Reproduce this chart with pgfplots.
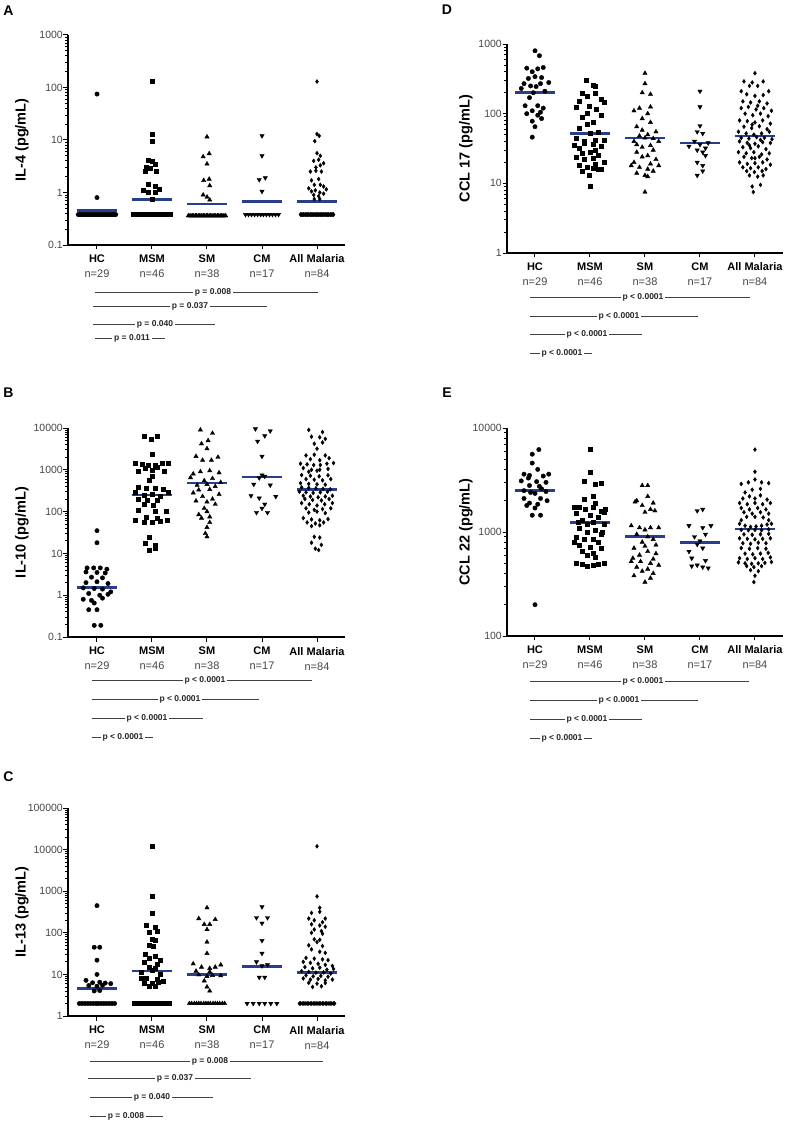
\documentclass[border=0pt]{standalone}
\usepackage{fontspec}
\setmainfont{Liberation Sans}
\usepackage{pgfplots}
\pgfplotsset{compat=1.18}
\definecolor{medblue}{RGB}{38,62,140}
\definecolor{ticktxt}{RGB}{70,70,70}

\pgfplotsset{
  panel/.style={
    scale only axis, clip=false,
    axis x line*=bottom, axis y line*=left,
    axis line style={-, line width=1.4pt},
    xtick={0,1,2,3,4},
    xticklabels={{\bfseries HC\\\color{ticktxt}n=29},{\bfseries MSM\\\color{ticktxt}n=46},{\bfseries SM\\\color{ticktxt}n=38},{\bfseries CM\\\color{ticktxt}n=17},{\bfseries All Malaria\\\color{ticktxt}n=84}},
    xticklabel style={align=center, font=\fontsize{11}{15}\selectfont, yshift=-2pt},
    tick align=outside,
    major tick length=4.5pt, minor tick length=3pt,
    tick style={black, line width=1pt},
    minor tick style={black, line width=0.8pt},
    yminorticks=true,
    yticklabel style={font=\fontsize{10.5}{12}\selectfont\color{ticktxt}, inner sep=0.5pt},
    ylabel style={font=\bfseries\fontsize{14.5}{14.5}\selectfont, anchor=center},
  },
  hc/.style={only marks, mark=*, mark size=2.2pt, black},
  msm/.style={only marks, mark=square*, mark size=2.0pt, black},
  sm/.style={only marks, mark=triangle*, mark size=2.5pt, black},
  cm/.style={only marks, mark=triangle*, mark size=2.5pt, black, mark options={rotate=180}},
  allm/.style={only marks, mark=diamond*, mark size=2.0pt, black},
  med/.style={no marks, color=medblue, line width=2.6pt},
}
\tikzset{
  pline/.style={line width=0.6pt, black!75},
  pval/.style={font=\bfseries\fontsize{8.5}{8.5}\selectfont, fill=white, inner xsep=2pt, inner ysep=0.5pt, text=black!85},
  lett/.style={font=\bfseries\fontsize{14}{14}\selectfont, anchor=center},
}

\begin{document}
\begin{tikzpicture}[x=1pt,y=1pt]
\useasboundingbox (0,0) rectangle (787,-1123);

% ---------------- A: IL-4
\begin{axis}[ymode=log, log ticks with fixed point, /pgf/number format/1000 sep={}, /pgf/number format/assume math mode=true,
  panel, at={(68pt,-245pt)}, anchor=south west, width=277pt, height=210pt,
  xmin=-0.527, xmax=4.509, ymin=0.1, ymax=1000, ylabel={IL-4 (pg/mL)},
  ytick={0.1,1,10,100,1000},
  minor ytick={0.2,0.3,0.4,0.5,0.6,0.7,0.8,0.9,2,3,4,5,6,7,8,9,20,30,40,50,60,70,80,90,200,300,400,500,600,700,800,900},
  ylabel style={at={(axis description cs:-0.166,0.5)}}]
\addplot[hc] coordinates {(0,75) (0,0.8)
 (-0.34,0.38) (-0.31,0.38) (-0.29,0.38) (-0.26,0.38) (-0.24,0.38) (-0.21,0.38) (-0.18,0.38) (-0.16,0.38) (-0.13,0.38) (-0.10,0.38) (-0.08,0.38) (-0.05,0.38) (-0.03,0.38) (0,0.38) (0.03,0.38) (0.05,0.38) (0.08,0.38) (0.10,0.38) (0.13,0.38) (0.16,0.38) (0.18,0.38) (0.21,0.38) (0.24,0.38) (0.26,0.38) (0.29,0.38) (0.31,0.38) (0.34,0.38)};
\addplot[msm] coordinates {(1,130) (1,13) (1,9.5) (0.93,4.2) (1.0,4.0) (0.89,3.0) (0.97,2.9) (1.06,3.4) (1.08,2.5) (0.88,2.5) (0.93,1.45) (1.05,1.3) (1.14,1.15) (0.84,1.1) (0.93,1.0) (1.05,1.0) (1.0,0.75)
 (0.66,0.38) (0.68,0.38) (0.71,0.38) (0.73,0.38) (0.76,0.38) (0.78,0.38) (0.81,0.38) (0.83,0.38) (0.85,0.38) (0.88,0.38) (0.90,0.38) (0.93,0.38) (0.95,0.38) (0.98,0.38) (1.00,0.38) (1.02,0.38) (1.05,0.38) (1.07,0.38) (1.10,0.38) (1.12,0.38) (1.15,0.38) (1.17,0.38) (1.19,0.38) (1.22,0.38) (1.24,0.38) (1.27,0.38) (1.29,0.38) (1.32,0.38) (1.34,0.38)};
\addplot[sm] coordinates {(2,11.5) (1.93,4.8) (2.04,5.5) (2,3.5) (1.94,1.7) (2.04,1.8) (2.05,1.35) (1.93,0.9) (2,0.82) (2.05,0.72)
 (1.66,0.36) (1.69,0.36) (1.71,0.36) (1.74,0.36) (1.76,0.36) (1.79,0.36) (1.81,0.36) (1.84,0.36) (1.86,0.36) (1.89,0.36) (1.91,0.36) (1.94,0.36) (1.96,0.36) (1.99,0.36) (2.01,0.36) (2.04,0.36) (2.06,0.36) (2.09,0.36) (2.11,0.36) (2.14,0.36) (2.16,0.36) (2.19,0.36) (2.21,0.36) (2.24,0.36) (2.26,0.36) (2.29,0.36) (2.31,0.36) (2.34,0.36)};
\addplot[cm] coordinates {(3,12) (3,5) (2.95,1.75) (3.06,1.9) (3,1.05)
 (2.70,0.38) (2.755,0.38) (2.81,0.38) (2.865,0.38) (2.92,0.38) (2.975,0.38) (3.025,0.38) (3.08,0.38) (3.135,0.38) (3.19,0.38) (3.245,0.38) (3.30,0.38)};
\addplot[allm] coordinates {(4,130) (4,13) (4.04,12) (3.96,9.5) (4,5.6) (4.06,5.0) (3.94,4.0) (4.03,4.2) (4.06,3.3) (4.12,3.6) (3.98,3.0) (3.88,2.5) (3.98,2.6) (4.08,2.5) (4.03,1.8) (3.9,1.7) (3.95,1.4) (4.06,1.4) (4.12,1.3) (3.85,1.2) (4.17,1.15) (3.97,1.1) (4.05,1.0) (3.9,1.05) (4.12,0.95) (3.94,0.9) (4.03,0.85) (3.95,0.75) (4.05,0.75)
 (3.70,0.38) (3.71,0.38) (3.72,0.38) (3.74,0.38) (3.75,0.38) (3.76,0.38) (3.78,0.38) (3.79,0.38) (3.80,0.38) (3.81,0.38) (3.83,0.38) (3.84,0.38) (3.85,0.38) (3.87,0.38) (3.88,0.38) (3.89,0.38) (3.90,0.38) (3.92,0.38) (3.93,0.38) (3.94,0.38) (3.96,0.38) (3.97,0.38) (3.98,0.38) (3.99,0.38) (4.01,0.38) (4.02,0.38) (4.03,0.38) (4.04,0.38) (4.06,0.38) (4.07,0.38) (4.08,0.38) (4.10,0.38) (4.11,0.38) (4.12,0.38) (4.13,0.38) (4.15,0.38) (4.16,0.38) (4.17,0.38) (4.19,0.38) (4.20,0.38) (4.21,0.38) (4.22,0.38) (4.24,0.38) (4.25,0.38) (4.26,0.38) (4.28,0.38) (4.29,0.38) (4.30,0.38)};
\addplot[med] coordinates {(-0.37,0.45) (0.37,0.45)};
\addplot[med] coordinates {(0.63,0.73) (1.37,0.73)};
\addplot[med] coordinates {(1.63,0.6) (2.37,0.6)};
\addplot[med] coordinates {(2.63,0.68) (3.37,0.68)};
\addplot[med] coordinates {(3.63,0.67) (4.37,0.67)};
\end{axis}

% ---------------- B: IL-10
\begin{axis}[ymode=log, log ticks with fixed point, /pgf/number format/1000 sep={}, /pgf/number format/assume math mode=true,
  panel, at={(68pt,-637pt)}, anchor=south west, width=277pt, height=209pt,
  xmin=-0.527, xmax=4.509, ymin=0.1, ymax=10000, ylabel={IL-10 (pg/mL)},
  ytick={0.1,1,10,100,1000,10000},
  minor ytick={0.2,0.3,0.4,0.5,0.6,0.7,0.8,0.9,2,3,4,5,6,7,8,9,20,30,40,50,60,70,80,90,200,300,400,500,600,700,800,900,2000,3000,4000,5000,6000,7000,8000,9000},
  ylabel style={at={(axis description cs:-0.166,0.5)}}]
\addplot[hc] coordinates {(0,35) (0,18) (-0.18,4.5) (-0.06,4.5) (0.06,4.5) (0.18,4.2) (-0.2,3.6) (0,3.5) (0.15,3.4) (-0.1,2.7) (0.1,2.6) (-0.2,2.0) (0,2.1) (0.2,1.9) (-0.25,1.5) (-0.05,1.45) (0.1,1.4) (0.25,1.2) (-0.15,1.1) (0.05,1.0) (0.2,1.05) (-0.25,0.8) (-0.1,0.75) (0.1,0.85) (-0.05,0.65) (-0.15,0.45) (0,0.45) (-0.05,0.19) (0.07,0.19)};
\addplot[msm] coordinates {(0.85,6200) (1.1,6200) (0.98,5500) (1,2300) (0.7,1400) (0.82,1350) (0.94,1300) (1.06,1300) (1.18,1400) (1.3,1450) (0.88,1100) (1.1,1150) (0.75,950) (1.0,1000) (1.22,950) (1.0,720) (0.95,560) (0.75,380) (0.9,370) (1.05,360) (1.2,350) (0.7,290) (1.3,290) (0.85,250) (1.0,260) (1.15,240) (0.75,200) (0.92,190) (1.1,190) (0.85,150) (1.02,140) (0.75,110) (1.05,105) (1.25,100) (0.9,75) (1.1,70) (0.7,62) (0.85,57) (1.0,55) (1.15,60) (1.28,62) (0.95,24) (0.88,18) (1.05,16) (0.95,12) (1.05,13)};
\addplot[sm] coordinates {(1.88,9000) (2.1,7500) (2.02,5000) (1.9,4200) (2,3200) (1.8,2100) (2.2,2000) (1.92,1700) (2.08,1700) (1.88,900) (2.05,950) (1.75,800) (2.22,850) (1.7,650) (2.1,620) (1.95,550) (2.25,500) (1.82,430) (2.0,450) (2.15,400) (1.85,330) (2.05,340) (1.75,280) (2.22,260) (1.92,230) (2.1,200) (1.8,180) (2.0,170) (2.15,150) (1.95,120) (2.0,100) (1.85,85) (2.05,75) (1.9,70) (2.05,55) (2.0,42) (1.97,30) (2,25)};
\addplot[cm] coordinates {(2.88,9500) (3.15,8500) (3.05,6500) (2.92,4800) (3,2100) (3,750) (3.05,700) (2.95,640) (2.85,450) (3.15,430) (2.8,240) (3.25,230) (2.95,210) (3.05,150) (2.9,95) (3.1,95) (3.0,120)};
\addplot[allm] coordinates {(3.85,9000) (4.1,8000) (3.9,6200) (4.05,6000) (4.15,5500) (3.95,4200) (4.1,4500) (4.0,3200) (3.8,2200) (3.95,2300) (4.15,2200) (3.88,1800) (4.05,1700) (4.22,1900)
 (3.7,1400) (3.82,1350) (3.94,1300) (4.06,1300) (4.18,1400) (4.3,1450) (3.75,1100) (3.9,1000) (4.05,1000) (4.2,1050) (3.85,900) (4.0,950)
 (3.72,750) (3.88,720) (4.04,700) (4.2,740) (3.8,600) (3.95,580) (4.1,560) (4.25,600) (3.7,480) (3.85,460) (4.0,450) (4.15,440)
 (3.72,380) (3.85,370) (3.98,360) (4.11,350) (4.24,340) (3.68,300) (3.8,290) (3.93,280) (4.06,290) (4.19,300) (3.75,240) (3.88,230) (4.02,220) (4.15,230) (4.28,240) (3.78,200) (3.92,190) (4.08,185) (4.22,200)
 (3.72,160) (3.86,150) (4.0,140) (4.14,150) (4.28,160) (3.8,120) (3.95,110) (4.1,115) (4.25,120) (3.85,95) (4.0,100) (4.15,92)
 (3.75,70) (3.9,65) (4.05,62) (4.2,66) (3.82,55) (3.97,52) (4.12,55) (3.9,45) (4.05,47)
 (3.95,25) (4.05,24) (3.9,18) (4.08,16) (3.97,13) (4.03,12)};
\addplot[med] coordinates {(-0.37,1.55) (0.37,1.55)};
\addplot[med] coordinates {(0.63,250) (1.37,250)};
\addplot[med] coordinates {(1.63,480) (2.37,480)};
\addplot[med] coordinates {(2.63,670) (3.37,670)};
\addplot[med] coordinates {(3.63,340) (4.37,340)};
\end{axis}

% ---------------- C: IL-13
\begin{axis}[ymode=log, log ticks with fixed point, /pgf/number format/1000 sep={}, /pgf/number format/assume math mode=true,
  panel, at={(68pt,-1016pt)}, anchor=south west, width=277pt, height=208pt,
  xmin=-0.527, xmax=4.509, ymin=1, ymax=100000, ylabel={IL-13 (pg/mL)},
  ytick={1,10,100,1000,10000,100000},
  minor ytick={2,3,4,5,6,7,8,9,20,30,40,50,60,70,80,90,200,300,400,500,600,700,800,900,2000,3000,4000,5000,6000,7000,8000,9000,20000,30000,40000,50000,60000,70000,80000,90000},
  ylabel style={at={(axis description cs:-0.166,0.5)}}]
\addplot[hc] coordinates {(0,450) (-0.05,45) (0.05,45) (0,22) (0,10) (-0.2,7.2) (-0.08,6.3) (0.05,6.5) (0.15,6.2) (0.25,6.0) (-0.15,5.4) (0.0,5.2) (0.1,5.5) (-0.05,4.0) (0.05,4.1)
 (-0.32,2) (-0.27,2) (-0.22,2) (-0.17,2) (-0.12,2) (-0.07,2) (-0.02,2) (0.02,2) (0.07,2) (0.12,2) (0.17,2) (0.22,2) (0.27,2) (0.32,2)};
\addplot[msm] coordinates {(1,12000) (1,750) (1,300) (0.9,150) (1.05,140) (1.1,110) (0.95,105) (1.0,70) (1.05,65) (0.95,50) (1.03,48) (0.88,30) (1.05,28) (0.95,25) (1.15,22) (0.85,20) (1.1,18) (0.95,15) (1.05,14) (1.0,12.5) (0.8,11) (1.15,10) (0.8,8) (0.9,8) (1.1,7.5) (1.2,7) (0.85,6.2) (1.0,6) (1.12,6.5) (0.95,5.2) (1.05,5.3)
 (0.68,2) (0.73,2) (0.77,2) (0.82,2) (0.86,2) (0.91,2) (0.95,2) (1.0,2) (1.05,2) (1.09,2) (1.14,2) (1.18,2) (1.23,2) (1.27,2) (1.32,2)};
\addplot[sm] coordinates {(2,400) (1.85,220) (2.15,210) (1.95,160) (2.05,160) (2,120) (2,60) (2,32) (1.75,18) (2.25,17) (1.9,15) (2.05,14) (2.15,15) (1.8,12) (2.05,11.5) (1.85,9.8) (2.1,9.5) (2,9) (2.25,9.3) (1.95,7) (2.0,5) (2.05,4)
 (1.68,2) (1.72,2) (1.77,2) (1.81,2) (1.85,2) (1.89,2) (1.94,2) (1.98,2) (2.02,2) (2.06,2) (2.11,2) (2.15,2) (2.19,2) (2.23,2) (2.28,2) (2.32,2)};
\addplot[cm] coordinates {(3,420) (2.9,230) (3.1,230) (3,170) (3,65) (3,32) (2.9,20) (3,16) (3.1,17) (2.95,8.5) (3.05,8.5)
 (2.73,2) (2.84,2) (2.95,2) (3.05,2) (3.16,2) (3.27,2)};
\addplot[allm] coordinates {(4,12000) (4,750) (4.05,400) (3.9,300) (4.05,320) (3.85,220) (4.15,220) (3.95,200) (4.1,180) (3.9,160) (4.05,150) (4.15,140) (3.95,120) (4.08,110) (3.9,100) (4.1,95) (3.95,70) (4.05,68) (4,60) (3.85,50) (4.1,48) (3.9,40) (4.05,35) (4.15,33) (3.8,25) (3.95,24) (4.1,23) (4.2,22) (3.75,20) (3.88,19) (4.02,18) (4.15,17) (4.28,16) (3.78,15) (3.92,14) (4.05,14.5) (4.18,13) (4.3,13.5) (3.72,12) (3.85,11.5) (3.98,11) (4.12,11.2) (4.25,10.5) (3.8,9.5) (3.93,9) (4.07,9.2) (4.2,8.8) (3.75,8) (3.88,7.5) (4.02,7.8) (4.15,7.2) (4.28,7.5) (3.85,6.3) (4,6) (4.15,6.2) (3.92,5) (4.08,5.2)
 (3.68,2) (3.70,2) (3.73,2) (3.75,2) (3.78,2) (3.80,2) (3.83,2) (3.85,2) (3.88,2) (3.90,2) (3.93,2) (3.95,2) (3.98,2) (4.0,2) (4.02,2) (4.05,2) (4.07,2) (4.10,2) (4.12,2) (4.15,2) (4.17,2) (4.20,2) (4.22,2) (4.25,2) (4.27,2) (4.30,2) (4.32,2)};
\addplot[med] coordinates {(-0.37,4.6) (0.37,4.6)};
\addplot[med] coordinates {(0.63,12) (1.37,12)};
\addplot[med] coordinates {(1.63,9.8) (2.37,9.8)};
\addplot[med] coordinates {(2.63,15.5) (3.37,15.5)};
\addplot[med] coordinates {(3.63,11) (4.37,11)};
\end{axis}

% ---------------- D: CCL 17
\begin{axis}[ymode=log, log ticks with fixed point, /pgf/number format/1000 sep={}, /pgf/number format/assume math mode=true,
  panel, at={(507pt,-253pt)}, anchor=south west, width=276pt, height=209pt,
  xmin=-0.509, xmax=4.51, ymin=1, ymax=1000, ylabel={CCL 17 (pg/mL)},
  ytick={1,10,100,1000},
  minor ytick={2,3,4,5,6,7,8,9,20,30,40,50,60,70,80,90,200,300,400,500,600,700,800,900},
  ylabel style={at={(axis description cs:-0.149,0.5)}}]
\addplot[hc] coordinates {(0,800) (0.08,680) (-0.15,450) (0.05,440) (0.15,460) (-0.05,400) (0.0,340) (-0.12,320) (0.12,330) (-0.2,270) (0.25,280) (0.1,270) (-0.08,250) (0.02,245) (-0.25,230) (-0.03,200) (0.18,210) (-0.1,170) (-0.18,130) (0.05,130) (0.15,120) (-0.05,110) (-0.15,100) (0.1,105) (0.05,95) (-0.05,78) (0.12,85) (0,65) (-0.05,46)};
\addplot[msm] coordinates {(0.93,300) (1.05,260) (1.1,250) (0.85,200) (1.1,195) (0.95,180) (1.2,160) (0.8,150) (1.25,145) (0.98,130) (0.75,125) (1.12,115) (0.95,100) (1.2,95) (0.85,90) (1.05,75) (0.95,70) (0.8,62) (1.15,55) (1.0,52) (0.75,45) (1.25,42) (0.9,38) (1.05,36) (1.2,34) (0.8,32) (1.1,30) (1.0,28) (0.85,27) (1.15,25) (0.75,24) (1.05,23) (0.9,22) (1.25,20) (1.1,19) (0.8,18) (0.95,17) (1.15,16) (1.05,16.5) (0.85,15) (1.2,16) (0.98,13) (1.0,9) (0.9,40) (1.1,42) (0.72,35)};
\addplot[sm] coordinates {(2,380) (2,270) (1.95,200) (2.1,190) (1.9,120) (2.1,125) (1.8,110) (2.05,100) (1.95,85) (2.1,75) (1.85,65) (2.2,55) (2.05,50) (1.9,48) (2.0,45) (2.15,44) (1.8,40) (2.1,35) (1.95,33) (2.15,30) (1.85,28) (2.05,25) (1.95,24) (2.2,22) (1.8,20) (2.1,19) (2.25,18) (1.9,17) (2.05,16) (2.15,15) (1.85,14) (2.0,13) (2.05,12.5) (2,7.5) (1.85,36) (1.75,18) (2.25,40) (1.95,58)};
\addplot[cm] coordinates {(3,210) (3,125) (3,67) (2.95,55) (3.05,52) (2.9,40) (3.15,38) (3.0,36) (2.8,34) (3.1,32) (2.95,30) (3.05,28) (3.1,25) (2.95,20) (3.05,18) (3.05,15) (2.95,13)};
\addplot[allm] coordinates {(4,380) (3.8,290) (3.95,280) (4.15,290) (3.75,210) (3.9,250) (4.05,250) (4.25,210) (3.85,190) (4.0,180)
 (4.15,185) (3.78,150) (3.92,145) (4.08,150) (4.22,140) (3.75,120) (3.88,125) (4.02,115) (4.16,120) (4.3,110)
 (3.82,100) (3.96,95) (4.1,100) (4.24,92) (3.72,80) (3.86,78) (4.0,75) (4.14,80) (4.28,72) (3.8,65)
 (3.94,62) (4.08,66) (4.22,60) (3.7,55) (3.84,52) (3.98,50) (4.12,52) (4.26,55) (3.75,45) (3.89,44)
 (4.03,46) (4.17,45) (4.31,43) (3.72,40) (3.86,38) (4.0,37) (4.14,39) (4.28,38) (3.78,33) (3.92,32)
 (4.06,34) (4.2,31) (3.7,28) (3.84,27) (3.98,28) (4.12,26) (4.26,27) (3.8,24) (3.94,23) (4.08,24)
 (4.22,22) (3.72,20) (3.86,19) (4.0,19.5) (4.14,20) (4.28,18.5) (3.78,17) (3.92,16.5) (4.06,17) (4.2,16)
 (3.85,15) (3.99,14.5) (4.13,15) (3.9,13) (4.05,12.5) (4.15,13) (3.95,9) (4.1,9.5) (3.97,7.5) (4.0,23)
 (3.9,35) (4.1,42) (3.95,70) (4.05,130)};
\addplot[med] coordinates {(-0.36,200) (0.36,200)};
\addplot[med] coordinates {(0.64,52) (1.36,52)};
\addplot[med] coordinates {(1.64,45) (2.36,45)};
\addplot[med] coordinates {(2.64,38) (3.36,38)};
\addplot[med] coordinates {(3.64,48) (4.36,48)};
\end{axis}

% ---------------- E: CCL 22
\begin{axis}[ymode=log, log ticks with fixed point, /pgf/number format/1000 sep={}, /pgf/number format/assume math mode=true,
  panel, at={(507pt,-636pt)}, anchor=south west, width=276pt, height=208pt,
  xmin=-0.509, xmax=4.51, ymin=100, ymax=10000, ylabel={CCL 22 (pg/mL)},
  ytick={100,1000,10000},
  minor ytick={200,300,400,500,600,700,800,900,2000,3000,4000,5000,6000,7000,8000,9000},
  ylabel style={at={(axis description cs:-0.149,0.5)}}]
\addplot[hc] coordinates {(0.07,6200) (-0.05,5600) (-0.05,4600) (0.05,4000) (-0.2,3600) (0.25,3600) (-0.1,3500) (0.15,3450) (-0.12,3300) (-0.25,3100) (0.03,3050) (0.2,3000) (-0.1,2800) (0.08,2750) (0.12,2600) (-0.2,2500) (0.2,2450) (0,2350) (-0.08,2400) (-0.2,2100) (0.1,2100) (0.22,2000) (-0.1,1900) (0.05,1850) (0.0,1700) (-0.15,1800) (-0.05,1450) (0.1,1450) (0,200)};
\addplot[msm] coordinates {(1,6200) (1,3800) (0.9,3100) (1.1,2900) (1.2,2950) (1.05,2200) (0.9,2050) (1.1,1900) (0.8,1750) (1.05,1750) (0.92,1650) (1.2,1600) (1.25,1550) (0.75,1500) (1.0,1450) (1.15,1400) (0.85,1300) (1.05,1250) (0.95,1200) (1.25,1200) (0.8,1100) (1.1,1050) (0.95,1000) (1.2,950) (0.75,900) (1.05,850) (0.9,850) (1.15,800) (0.8,750) (1.0,720) (1.2,700) (0.85,650) (1.05,620) (0.95,600) (1.1,570) (0.75,500) (0.85,490) (1.05,480) (1.15,490) (1.25,500) (0.95,470) (0.72,1750) (1.28,1650) (0.78,1250) (1.22,1000) (0.72,800)};
\addplot[sm] coordinates {(1.95,2800) (2.05,2800) (2.05,2200) (1.85,2000) (2.15,1900) (1.95,1800) (2.1,1650) (2.0,1550) (1.75,1150) (1.9,1100) (2.1,1100) (2.25,1100) (2.0,1050) (1.85,950) (2.05,900) (2.15,850) (1.95,800) (2.2,750) (1.8,700) (2.05,650) (1.9,600) (2.15,550) (1.75,520) (2.1,500) (2.25,480) (1.85,460) (2.05,440) (1.95,420) (2.15,400) (1.8,380) (2.1,360) (2,330) (1.82,1950) (2.18,1600) (1.92,520) (2.2,620) (1.78,560) (2.0,730)};
\addplot[cm] coordinates {(3.05,1650) (2.95,1600) (2.8,1150) (3.05,1100) (3.2,1150) (3.1,950) (2.9,900) (3,820) (2.95,760) (3.05,700) (2.8,650) (2.85,560) (3.1,530) (2.95,480) (3.05,460) (2.85,470) (3.15,450)};
\addplot[allm] coordinates {(4,6200) (4,3800) (3.88,3000) (4.12,3000) (4.0,3200) (3.75,2900) (4.25,2950) (3.9,2200) (4.1,2250) (3.78,2100)
 (4.0,2100) (4.22,2050) (3.72,1900) (3.86,1850) (4.0,1900) (4.14,1850) (4.28,1900) (3.75,1700) (3.9,1650) (4.05,1700)
 (4.2,1650) (3.8,1550) (3.95,1500) (4.1,1550) (4.25,1500) (3.85,1400) (4.0,1400) (4.15,1380) (3.72,1200) (3.82,1150)
 (3.92,1120) (4.02,1130) (4.12,1150) (4.22,1180) (4.3,1200) (3.75,1050) (3.88,1040) (4.0,1050) (4.12,1040) (4.25,1060)
 (3.8,950) (3.95,940) (4.1,950) (4.25,960) (3.72,870) (3.86,860) (4.0,850) (4.14,860) (4.28,870) (3.78,780)
 (3.92,770) (4.06,790) (4.2,780) (3.75,700) (3.9,690) (4.05,700) (4.2,690) (3.82,620) (3.96,610) (4.1,620)
 (4.24,630) (3.72,560) (3.86,550) (4.0,560) (4.14,550) (4.28,570) (3.7,510) (3.82,500) (3.94,495) (4.06,500)
 (4.18,505) (4.3,515) (3.85,470) (3.98,460) (4.12,470) (3.92,430) (4.06,420) (4.0,380) (3.98,330) (3.75,1300)
 (4.25,1300) (3.95,2550) (4.1,2600) (3.82,2400)};
\addplot[med] coordinates {(-0.36,2500) (0.36,2500)};
\addplot[med] coordinates {(0.64,1230) (1.36,1230)};
\addplot[med] coordinates {(1.64,900) (2.36,900)};
\addplot[med] coordinates {(2.64,790) (3.36,790)};
\addplot[med] coordinates {(3.64,1070) (4.36,1070)};
\end{axis}

% panel letters
\node[lett] at (8.5,-11) {A};
\node[lett] at (8.5,-393) {B};
\node[lett] at (8.5,-777) {C};
\node[lett] at (447,-10) {D};
\node[lett] at (447,-393) {E};

% significance bars (y, x from, x to, text x, text)
\foreach \yy/\xa/\xb/\xt/\tx in {
  292/95/318/213/{p = 0.008}, 306/93/267/190/{p = 0.037}, 324/93/215/155/{p = 0.040}, 338/95/165/132/{p = 0.011},
  680/92/312/205/{p < 0.0001}, 699/92/259/180/{p < 0.0001}, 718/92/203/147/{p < 0.0001}, 737/92/153/123/{p < 0.0001},
  1061/90/323/210/{p = 0.008}, 1078/88/251/175/{p = 0.037}, 1097/90/213/152/{p = 0.040}, 1116/90/163/126/{p = 0.008},
  297/530/750/643/{p < 0.0001}, 316/530/698/619/{p < 0.0001}, 334/530/642/587/{p < 0.0001}, 353/530/592/562/{p < 0.0001},
  681/530/749/643/{p < 0.0001}, 700/530/698/619/{p < 0.0001}, 719/530/642/587/{p < 0.0001}, 738/530/592/562/{p < 0.0001}}{
  \draw[pline] (\xa,-\yy) -- (\xb,-\yy);
  \node[pval] at (\xt,-\yy) {\tx};
}
\end{tikzpicture}
\end{document}
